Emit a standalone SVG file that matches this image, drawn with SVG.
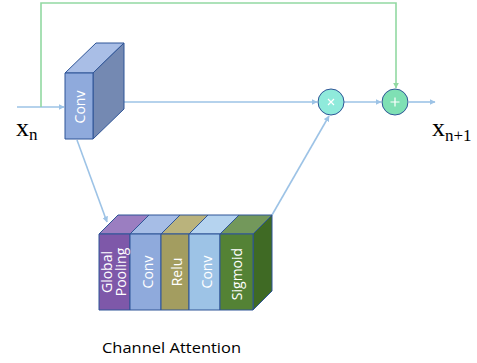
<svg xmlns="http://www.w3.org/2000/svg" width="477" height="363" viewBox="0 0 477 363">
  <defs>
    <style>
      .edge { fill: none; stroke: #9DC3E6; stroke-width: 1.6; }
      .skip { fill: none; stroke: #92D9A2; stroke-width: 1.6; }
      .box { stroke: #2F5597; stroke-width: 1; stroke-linejoin: round; }
      .lbl { font-family: "Open Sans", "Liberation Sans", Arial, sans-serif; font-size: 14px; fill: #ffffff; text-anchor: middle; dominant-baseline: central; }
      .math { font-family: "Liberation Serif", "Times New Roman", serif; fill: #000000; }
      .op { stroke: #2F5597; stroke-width: 1; }
      .sym { stroke: #ffffff; stroke-width: 1.2; }
    </style>
    <marker id="arrBlue" viewBox="0 0 10 10" refX="9" refY="5" markerWidth="6" markerHeight="6" markerUnits="userSpaceOnUse" orient="auto">
      <path d="M0,0 L10,5 L0,10 z" fill="#9DC3E6"/>
    </marker>
    <marker id="arrGreen" viewBox="0 0 10 10" refX="9" refY="5" markerWidth="6" markerHeight="6" markerUnits="userSpaceOnUse" orient="auto">
      <path d="M0,0 L10,5 L0,10 z" fill="#92D9A2"/>
    </marker>
  </defs>

  <!-- connectors -->
  <g id="connectors">
    <line class="edge" x1="17" y1="107" x2="64" y2="107" marker-end="url(#arrBlue)"/>
    <polyline class="skip" points="41,107 41,3 396,3 396,88" marker-end="url(#arrGreen)"/>
    <line class="edge" x1="124" y1="102" x2="317" y2="102" marker-end="url(#arrBlue)"/>
    <line class="edge" x1="344" y1="102" x2="381" y2="102" marker-end="url(#arrBlue)"/>
    <line class="edge" x1="409" y1="102" x2="435" y2="102" marker-end="url(#arrBlue)"/>
    <line class="edge" x1="77" y1="140" x2="107" y2="222" marker-end="url(#arrBlue)"/>
    <line class="edge" x1="272" y1="215" x2="329" y2="116" marker-end="url(#arrBlue)"/>
  </g>

  <!-- main convolution block -->
  <g id="conv">
    <polygon class="box" points="65,73 96,43 124,43 93,73" fill="#A9BEE6"/>
    <polygon class="box" points="93,73 124,43 124,109 93,139" fill="#7489B2"/>
    <rect class="box" x="65" y="73" width="28" height="66" fill="#8FAADC"/>
    <text class="lbl" x="79.5" y="107" font-size="16" transform="rotate(-90 79.5 107)">Conv</text>
  </g>

  <!-- element-wise multiply -->
  <g id="mul">
    <circle class="op" cx="331" cy="102" r="13" fill="#8FEADB"/>
    <path class="sym" d="M328,99 L334,105 M334,99 L328,105"/>
  </g>

  <!-- element-wise add -->
  <g id="add">
    <circle class="op" cx="395" cy="102" r="13" fill="#7FE0B4"/>
    <path class="sym" d="M395,97.5 L395,106.5 M390.5,102 L399.5,102"/>
  </g>

  <!-- channel attention stack -->
  <g id="channel-attention">
    <polygon class="box" points="253,234 272,215 272,291 253,310" fill="#3F6A24"/>
    <polygon class="box" points="99,234 118,215 149,215 130,234" fill="#9B7EC1"/>
    <polygon class="box" points="130,234 149,215 180,215 161,234" fill="#A6BDE6"/>
    <polygon class="box" points="161,234 180,215 208,215 189,234" fill="#BAB37C"/>
    <polygon class="box" points="189,234 208,215 239,215 220,234" fill="#B5D3EF"/>
    <polygon class="box" points="220,234 239,215 272,215 253,234" fill="#73985B"/>
    <rect class="box" x="99" y="234" width="31" height="76" fill="#7E58A9"/>
    <rect class="box" x="130" y="234" width="31" height="76" fill="#8FAADC"/>
    <rect class="box" x="161" y="234" width="28" height="76" fill="#A39D60"/>
    <rect class="box" x="189" y="234" width="31" height="76" fill="#9DC3E6"/>
    <rect class="box" x="220" y="234" width="33" height="76" fill="#548235"/>
    <text class="lbl" x="106.5" y="272" transform="rotate(-90 106.5 272)">Global</text>
    <text class="lbl" x="120.5" y="272" transform="rotate(-90 120.5 272)">Pooling</text>
    <text class="lbl" x="147.5" y="272" transform="rotate(-90 147.5 272)">Conv</text>
    <text class="lbl" x="176" y="272" transform="rotate(-90 176 272)">Relu</text>
    <text class="lbl" x="206" y="272" transform="rotate(-90 206 272)">Conv</text>
    <text class="lbl" x="236" y="274" transform="rotate(-90 236 274)">Sigmoid</text>
  </g>

  <!-- input / output symbols -->
  <g id="x-in">
    <text class="math" x="16" y="136" font-size="26">x<tspan font-size="17" dy="4">n</tspan></text>
  </g>
  <g id="x-out">
    <text class="math" x="432" y="136" font-size="26">x<tspan font-size="17" dy="5">n+1</tspan></text>
  </g>

  <g id="caption">
    <text x="102" y="353" font-family="'Open Sans', 'Liberation Sans', Arial, sans-serif" font-size="14" fill="#000000" textLength="139" lengthAdjust="spacingAndGlyphs">Channel Attention</text>
  </g>
</svg>
